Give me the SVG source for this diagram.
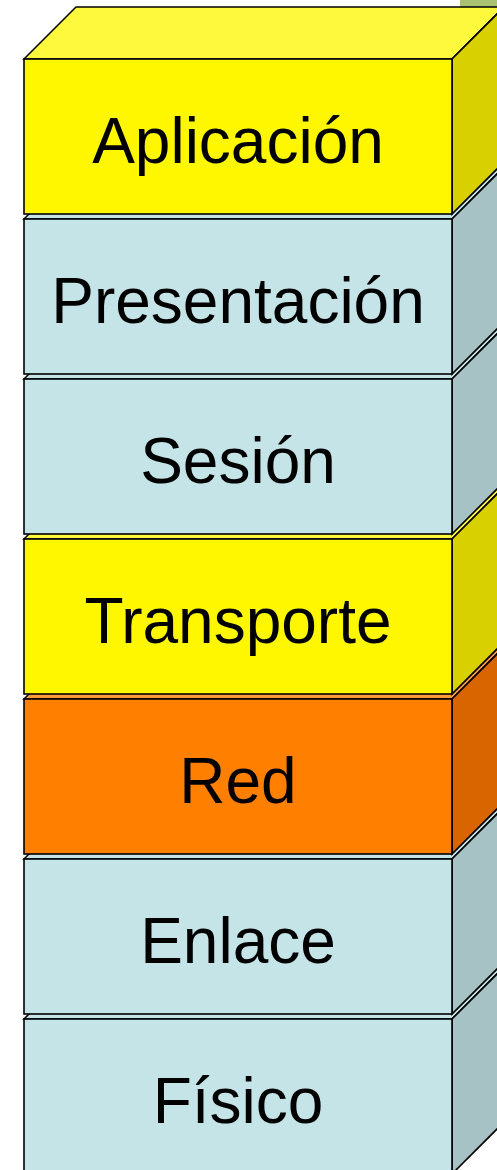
<svg xmlns="http://www.w3.org/2000/svg" width="497" height="1170" viewBox="0 0 497 1170">
<style>
.e{stroke:#000;stroke-width:1.6;stroke-linejoin:miter}
.t{font-family:"Liberation Sans",Arial,sans-serif;font-size:64px;fill:#000;text-anchor:middle}
.yf{fill:#FFF700}.yt{fill:#FFF93E}.ys{fill:#D8D000}
.bf{fill:#C4E4E8}.bt{fill:#C4E4E8}.bs{fill:#A7C2C5}
.of{fill:#FF7F00}.ot{fill:#FF9A3A}.os{fill:#D86500}
</style>
<rect x="460" y="0" width="40" height="10" fill="#A9C273"/>
<g id="fisico">
<polygon class="e bt" points="24,1019 76,967 504,967 452,1019"/>
<polygon class="e bs" points="452,1019 504,967 504,1122 452,1174"/>
<rect class="e bf" x="24" y="1019" width="428" height="155"/>
<text class="t" x="238" y="1123">Físico</text>
</g>
<g id="enlace">
<polygon class="e bt" points="24,859 76,807 504,807 452,859"/>
<polygon class="e bs" points="452,859 504,807 504,962 452,1014"/>
<rect class="e bf" x="24" y="859" width="428" height="155"/>
<text class="t" x="238" y="963">Enlace</text>
</g>
<g id="red">
<polygon class="e ot" points="24,699 76,647 504,647 452,699"/>
<polygon class="e os" points="452,699 504,647 504,802 452,854"/>
<rect class="e of" x="24" y="699" width="428" height="155"/>
<text class="t" x="238" y="803">Red</text>
</g>
<g id="transporte">
<polygon class="e yt" points="24,539 76,487 504,487 452,539"/>
<polygon class="e ys" points="452,539 504,487 504,642 452,694"/>
<rect class="e yf" x="24" y="539" width="428" height="155"/>
<text class="t" x="238" y="643">Transporte</text>
</g>
<g id="sesion">
<polygon class="e bt" points="24,379 76,327 504,327 452,379"/>
<polygon class="e bs" points="452,379 504,327 504,482 452,534"/>
<rect class="e bf" x="24" y="379" width="428" height="155"/>
<text class="t" x="238" y="483">Sesión</text>
</g>
<g id="presentacion">
<polygon class="e bt" points="24,219 76,167 504,167 452,219"/>
<polygon class="e bs" points="452,219 504,167 504,322 452,374"/>
<rect class="e bf" x="24" y="219" width="428" height="155"/>
<text class="t" x="238" y="323">Presentación</text>
</g>
<g id="aplicacion">
<polygon class="e yt" points="24,59 76,7 504,7 452,59"/>
<polygon class="e ys" points="452,59 504,7 504,162 452,214"/>
<rect class="e yf" x="24" y="59" width="428" height="155"/>
<text class="t" x="238" y="163">Aplicación</text>
</g>
<g id="connectors"></g>
</svg>
